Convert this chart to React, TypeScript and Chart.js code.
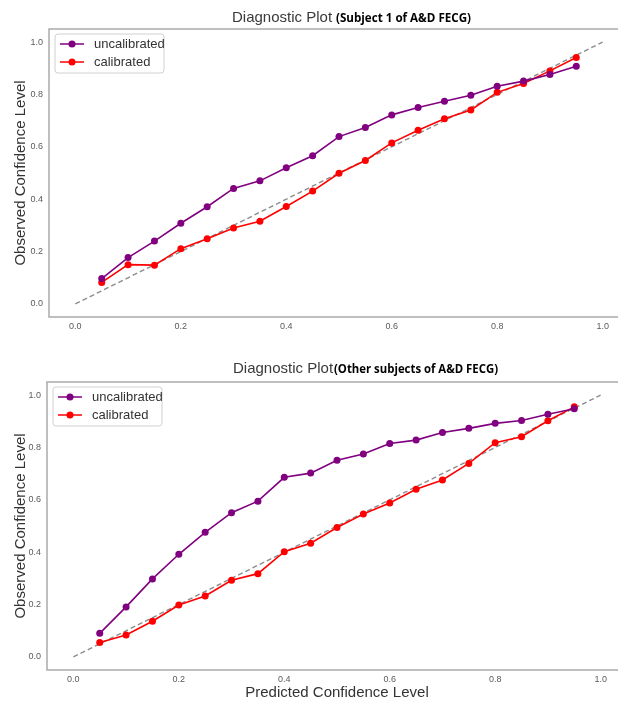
import React, { useEffect, useRef } from "react";
import { Chart, registerables } from "chart.js";
Chart.register(...registerables);

// ---------- data ----------
const predicted = [0.05, 0.1, 0.15, 0.2, 0.25, 0.3, 0.35, 0.4, 0.45, 0.5, 0.55, 0.6, 0.65, 0.7, 0.75, 0.8, 0.85, 0.9, 0.95];
const subject1Uncalibrated = [0.097, 0.177, 0.24, 0.308, 0.371, 0.441, 0.47, 0.52, 0.566, 0.639, 0.674, 0.722, 0.75, 0.774, 0.797, 0.831, 0.851, 0.876, 0.908];
const subject1Calibrated = [0.082, 0.15, 0.148, 0.211, 0.249, 0.29, 0.316, 0.372, 0.431, 0.499, 0.548, 0.615, 0.663, 0.707, 0.741, 0.808, 0.842, 0.89, 0.941];
const otherUncalibrated = [0.09, 0.191, 0.298, 0.392, 0.476, 0.551, 0.595, 0.686, 0.702, 0.751, 0.775, 0.815, 0.828, 0.857, 0.873, 0.892, 0.903, 0.927, 0.948];
const otherCalibrated = [0.055, 0.084, 0.136, 0.198, 0.233, 0.293, 0.318, 0.402, 0.434, 0.494, 0.546, 0.588, 0.64, 0.676, 0.739, 0.818, 0.841, 0.902, 0.955];
const diagonalX = [0, 1];
const diagonalY = [0, 1];
const xTicks = [0, 0.2, 0.4, 0.6, 0.8, 1.0];
const yTicks = [0, 0.2, 0.4, 0.6, 0.8, 1.0];
const seriesNames = ["uncalibrated", "calibrated"];
const titleMain = "Diagnostic Plot";
const titleTop = "(Subject 1 of A&D FECG)";
const titleBottom = "(Other subjects of A&D FECG)";
const xLabel = "Predicted Confidence Level";
const yLabel = "Observed Confidence Level";

const FONT = '"Liberation Sans", Arial, Helvetica, sans-serif';
const COLORS = ["#800080", "#ff0000"];

const framePlugin = {
  id: "frame",
  afterDatasetsDraw(chart: any) {
    const { ctx, chartArea: a } = chart;
    ctx.save();
    ctx.strokeStyle = "#aaaaaa";
    ctx.lineWidth = 1.5;
    ctx.strokeRect(a.left, a.top, a.right - a.left, a.bottom - a.top);
    ctx.restore();
  },
};

const legendPlugin = {
  id: "mplLegend",
  afterDraw(chart: any) {
    const { ctx, chartArea: a } = chart;
    const x = a.left + 6;
    const y = a.top + 5;
    ctx.save();
    ctx.beginPath();
    ctx.roundRect(x, y, 109, 39, 3);
    ctx.fillStyle = "rgba(255,255,255,0.85)";
    ctx.fill();
    ctx.strokeStyle = "#d0d0d0";
    ctx.lineWidth = 1;
    ctx.stroke();
    const sets = chart.data.datasets.filter((d: any) => seriesNames.includes(d.label));
    sets.forEach((d: any, i: number) => {
      const cy = y + 10 + i * 18;
      ctx.strokeStyle = d.borderColor;
      ctx.lineWidth = 1.5;
      ctx.beginPath();
      ctx.moveTo(x + 5, cy);
      ctx.lineTo(x + 29, cy);
      ctx.stroke();
      ctx.fillStyle = d.borderColor;
      ctx.beginPath();
      ctx.arc(x + 17, cy, 3.5, 0, Math.PI * 2);
      ctx.fill();
      ctx.fillStyle = "#333333";
      ctx.font = `13px ${FONT}`;
      ctx.textBaseline = "middle";
      ctx.textAlign = "left";
      ctx.fillText(d.label, x + 39, cy + 0.5);
    });
    ctx.restore();
  },
};

const titlePlugin = {
  id: "mixedTitle",
  afterDraw(chart: any, _args: any, opts: any) {
    const { ctx, chartArea: a } = chart;
    ctx.save();
    ctx.textBaseline = "middle";
    ctx.textAlign = "left";
    ctx.fillStyle = "#3a3a3a";
    ctx.font = `15px ${FONT}`;
    ctx.fillText(opts.main, a.left + opts.dx, opts.y);
    ctx.fillStyle = "#000000";
    ctx.font = `bold 12px "Open Sans", "Noto Sans", sans-serif`;
    ctx.fillText(opts.sub, a.left + opts.bx, opts.y + 1, opts.bw);
    ctx.restore();
  },
};

function makeConfig(unc: number[], cal: number[], opts: any) {
  const pts = (vals: number[]) => predicted.map((x, i) => ({ x, y: vals[i] }));
  return {
    type: "line" as const,
    data: {
      datasets: [
        {
          label: seriesNames[0],
          data: pts(unc),
          borderColor: COLORS[0],
          backgroundColor: COLORS[0],
          pointBackgroundColor: COLORS[0],
          pointBorderColor: COLORS[0],
          borderWidth: 1.6,
          pointRadius: 3.5,
          pointBorderWidth: 0,
          tension: 0,
        },
        {
          label: seriesNames[1],
          data: pts(cal),
          borderColor: COLORS[1],
          backgroundColor: COLORS[1],
          pointBackgroundColor: COLORS[1],
          pointBorderColor: COLORS[1],
          borderWidth: 1.6,
          pointRadius: 3.5,
          pointBorderWidth: 0,
          tension: 0,
        },
        {
          label: "perfect",
          data: diagonalX.map((x, i) => ({ x, y: diagonalY[i] })),
          borderColor: "#8c8c8c",
          borderWidth: 1.4,
          borderDash: [5, 3],
          pointRadius: 0,
          tension: 0,
        },
      ],
    },
    options: {
      responsive: false,
      animation: false as const,
      layout: { padding: { top: opts.padTop, left: 0, right: opts.padRight, bottom: 0 } },
      plugins: {
        legend: { display: false },
        tooltip: { enabled: false },
        title: { display: false },
        mixedTitle: opts.title,
      },
      scales: {
        x: {
          type: "linear" as const,
          min: -0.05,
          max: 1.05,
          grid: { display: false, drawTicks: false },
          border: { display: false },
          ticks: {
            font: { size: 9, family: FONT },
            color: "#5a5a5a",
            padding: 4,
            autoSkip: false,
            maxRotation: 0,
            callback: (v: any) => Number(v).toFixed(1),
          },
          afterBuildTicks: (s: any) => {
            s.ticks = xTicks.map((v) => ({ value: v }));
          },
          afterFit: (s: any) => {
            s.height = opts.xHeight;
          },
          title: {
            display: opts.showXLabel,
            text: xLabel,
            font: { size: 15, family: FONT },
            color: "#333333",
            padding: { top: 0, bottom: 0 },
          },
        },
        y: {
          type: "linear" as const,
          min: -0.05,
          max: 1.05,
          grid: { display: false, drawTicks: false },
          border: { display: false },
          ticks: {
            font: { size: 9, family: FONT },
            color: "#5a5a5a",
            padding: 6,
            callback: (v: any) => Number(v).toFixed(1),
          },
          afterBuildTicks: (s: any) => {
            s.ticks = yTicks.map((v) => ({ value: v }));
          },
          afterFit: (s: any) => {
            s.width = opts.yWidth;
          },
          title: {
            display: true,
            text: yLabel,
            font: { size: 15, family: FONT },
            color: "#333333",
            padding: { top: 12, bottom: 0 },
          },
        },
      },
    },
    plugins: [framePlugin, legendPlugin, titlePlugin],
  };
}

function Plot(props: { unc: number[]; cal: number[]; opts: any; top: number; height: number }) {
  const ref = useRef<HTMLCanvasElement | null>(null);
  useEffect(() => {
    if (!ref.current) return;
    const chart = new Chart(ref.current, makeConfig(props.unc, props.cal, props.opts) as any);
    return () => chart.destroy();
  }, []);
  return (
    <canvas
      ref={ref}
      width={640}
      height={props.height}
      style={{ position: "absolute", left: 0, top: props.top, width: 640, height: props.height }}
    />
  );
}

export default function App() {
  return (
    <div
      style={{
        position: "absolute",
        left: 0,
        top: 0,
        width: 618,
        height: 702,
        overflow: "hidden",
        background: "#ffffff",
      }}
    >
      <Plot
        unc={subject1Uncalibrated}
        cal={subject1Calibrated}
        top={0}
        height={340}
        opts={{
          padTop: 29,
          padRight: 11,
          xHeight: 23,
          yWidth: 49,
          showXLabel: false,
          title: { main: titleMain, sub: titleTop, dx: 183, bx: 287, bw: 135, y: 18 },
        }}
      />
      <Plot
        unc={otherUncalibrated}
        cal={otherCalibrated}
        top={340}
        height={362}
        opts={{
          padTop: 42,
          padRight: 13,
          xHeight: 32,
          yWidth: 47,
          showXLabel: true,
          title: { main: titleMain, sub: titleBottom, dx: 186, bx: 287, bw: 164, y: 29 },
        }}
      />
    </div>
  );
}
